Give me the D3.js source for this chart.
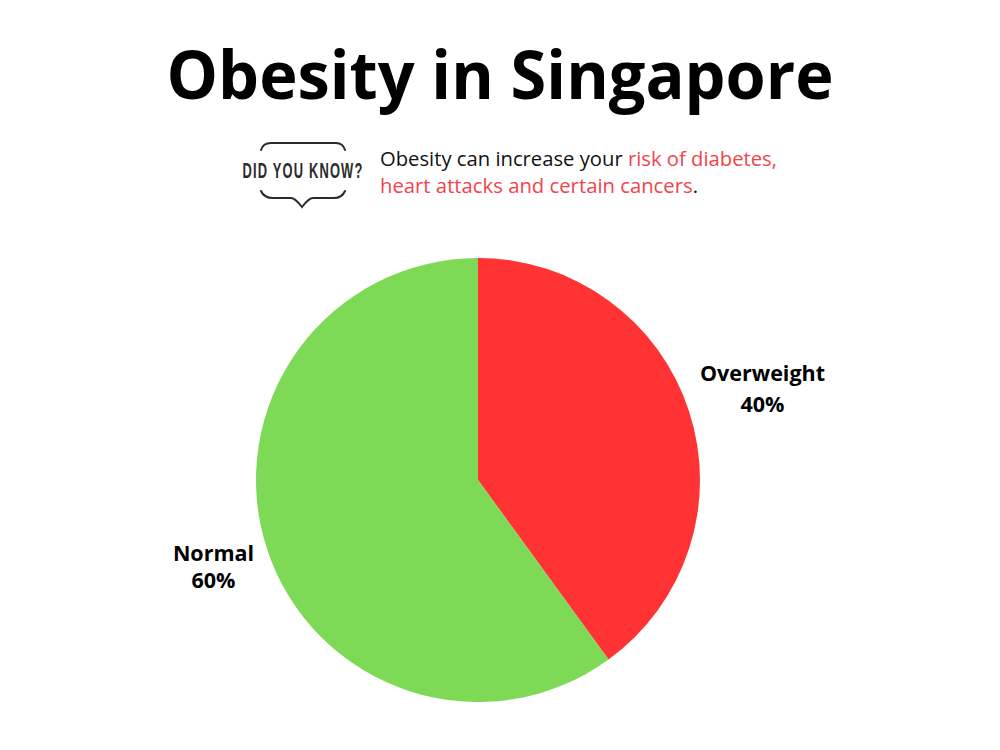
<!DOCTYPE html>
<html><head><meta charset="utf-8">
<script src="https://cdnjs.cloudflare.com/ajax/libs/d3/7.8.5/d3.min.js"></script>
<style>html,body{margin:0;padding:0;background:#fff}svg{display:block}</style>
</head><body><svg id="c" width="1000" height="750"></svg>
<script>
const categories = ["Overweight", "Normal"];
const values = [40, 60];
const colors = ["#ff3334", "#7ed957"];
const title = "Obesity in Singapore";
const badge = "DID YOU KNOW?";

const svg = d3.select("#c");
svg.append("rect").attr("width",1000).attr("height",750).attr("fill","#fff");

svg.append("text").attr("x",500).attr("y",99).attr("text-anchor","middle")
  .attr("font-family","'Open Sans'").attr("font-weight",700).attr("font-size",66).attr("fill","#000")
  .attr("textLength",667).attr("lengthAdjust","spacingAndGlyphs").text(title);

// badge
const b = svg.append("g").attr("fill","none").attr("stroke","#2b2b2b").attr("stroke-width",2).attr("stroke-linecap","round");
b.append("path").attr("d","M261,150 Q263,143 271,143 L336,143 Q343,143 345,150");
b.append("path").attr("d","M261,191 Q264,198 273,198 L291,198 Q295,198 302,207 Q309,198 313,198 L334,198 Q342,198 345,191");
const badgeText = svg.append("text").attr("text-anchor","middle")
  .attr("font-family","'Liberation Sans'").attr("font-weight",700).attr("font-size",22)
  .attr("letter-spacing",2).attr("fill","#2b2b2b").text(badge);
const badgeScale = 121 / badgeText.node().getComputedTextLength();
badgeText.attr("transform",`translate(303,178) scale(${badgeScale},1)`);

// note
const noteFont = "'Open Sans'";
const l1 = svg.append("text").attr("x",380).attr("y",166).attr("font-family",noteFont).attr("font-size",19.5).attr("textLength",397).attr("lengthAdjust","spacingAndGlyphs");
l1.append("tspan").attr("fill","#111").text("Obesity can increase your ");
l1.append("tspan").attr("fill","#f0444c").text("risk of diabetes,");
const l2 = svg.append("text").attr("x",380).attr("y",193).attr("font-family",noteFont).attr("font-size",19.5).attr("textLength",318).attr("lengthAdjust","spacingAndGlyphs");
l2.append("tspan").attr("fill","#f0444c").text("heart attacks and certain cancers");
l2.append("tspan").attr("fill","#111").text(".");

// pie
const pie = d3.pie().sort(null)(values);
const arc = d3.arc().innerRadius(0).outerRadius(222);
const g = svg.append("g").attr("transform","translate(478,480)");
g.selectAll("path").data(pie).join("path").attr("d",arc).attr("fill",(d,i)=>colors[i]);

// labels
const lab = g.selectAll("text").data(pie).join("text")
  .attr("text-anchor","middle").attr("font-family","'Open Sans'").attr("font-weight",700).attr("font-size",21.5).attr("fill","#000");
lab.each(function(d,i){
  const [cx,cy] = i===0 ? [284.5,-99] : [-264.5,81];
  const t = d3.select(this);
  t.append("tspan").attr("x",cx).attr("y",cy).text(categories[i]);
  t.append("tspan").attr("x",cx).attr("y",cy+(i===0?31:27)).text(values[i]+"%");
});
</script></body></html>
